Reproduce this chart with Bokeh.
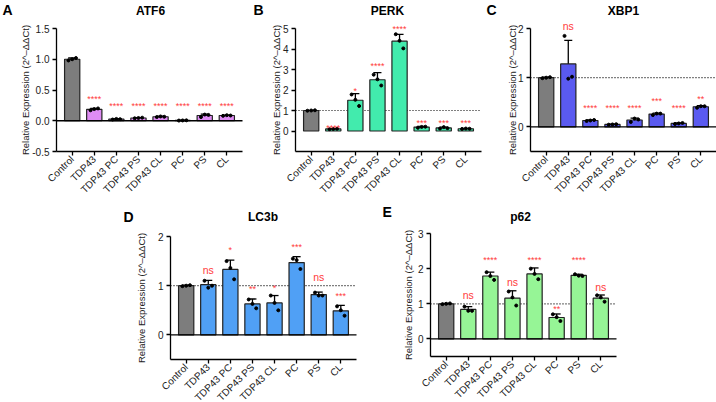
from math import pi

from bokeh.core.properties import value
from bokeh.embed import file_html
from bokeh.layouts import column, row
from bokeh.models import (ColumnDataSource, FixedTicker, Label, NumeralTickFormatter,
                          Range1d, TeeHead, Whisker)
from bokeh.plotting import figure
from bokeh.resources import INLINE

FONT = "Liberation Sans"
SIG_RED = "#ff3b3b"
CONTROL_GREY = "#7d7d7d"

groups = ["Control", "TDP43", "TDP43 PC", "TDP43 PS", "TDP43 CL", "PC", "PS", "CL"]

# ---- ATF6 ----
atf6_mean = [1.00, 0.185, 0.025, 0.045, 0.065, 0.005, 0.085, 0.085]
atf6_sd = [0.02, 0.015, 0.008, 0.006, 0.008, 0.003, 0.022, 0.007]
atf6_reps = [[0.98, 1.00, 1.02], [0.17, 0.19, 0.20], [0.02, 0.03, 0.025],
             [0.04, 0.045, 0.05], [0.06, 0.07, 0.065], [0.003, 0.005, 0.007],
             [0.06, 0.10, 0.095], [0.08, 0.09, 0.085]]
atf6_sig = ["", "****", "****", "****", "****", "****", "****", "****"]
atf6_sig_y = [0, 0.36, 0.235, 0.235, 0.235, 0.235, 0.235, 0.235]

# ---- PERK ----
perk_mean = [1.00, 0.10, 1.50, 2.50, 4.38, 0.19, 0.15, 0.11]
perk_sd = [0.01, 0.01, 0.32, 0.35, 0.33, 0.03, 0.04, 0.02]
perk_reps = [[0.99, 1.00, 1.01], [0.09, 0.10, 0.11], [1.78, 1.52, 1.22],
             [2.75, 2.52, 2.22], [4.72, 4.40, 4.03], [0.16, 0.20, 0.21],
             [0.12, 0.19, 0.14], [0.10, 0.12, 0.11]]
perk_sig = ["", "****", "*", "****", "****", "***", "***", "***"]
perk_sig_y = [0, 0.15, 1.94, 3.17, 4.96, 0.41, 0.41, 0.41]

# ---- XBP1 ----
xbp1_mean = [1.00, 1.28, 0.13, 0.05, 0.14, 0.26, 0.07, 0.41]
xbp1_sd = [0.01, 0.48, 0.01, 0.005, 0.04, 0.02, 0.01, 0.02]
xbp1_reps = [[0.99, 1.00, 1.01], [1.85, 0.98, 1.02], [0.12, 0.13, 0.14],
             [0.045, 0.05, 0.055], [0.10, 0.17, 0.15], [0.24, 0.27, 0.27],
             [0.06, 0.07, 0.08], [0.39, 0.42, 0.42]]
xbp1_sig = ["", "ns", "****", "****", "****", "***", "****", "**"]
xbp1_sig_y = [0, 2.05, 0.385, 0.385, 0.39, 0.52, 0.385, 0.57]

# ---- LC3b ----
lc3b_mean = [1.00, 1.02, 1.33, 0.63, 0.65, 1.47, 0.82, 0.49]
lc3b_sd = [0.01, 0.09, 0.19, 0.10, 0.15, 0.12, 0.05, 0.11]
lc3b_reps = [[0.99, 1.00, 1.01], [1.10, 0.96, 1.00], [1.50, 1.36, 1.13],
             [0.72, 0.63, 0.54], [0.80, 0.65, 0.50], [1.55, 1.52, 1.34],
             [0.86, 0.80, 0.80], [0.58, 0.50, 0.39]]
lc3b_sig = ["", "ns", "*", "**", "*", "***", "ns", "***"]
lc3b_sig_y = [0, 1.31, 1.72, 0.94, 0.96, 1.79, 1.18, 0.79]

# ---- p62 ----
p62_mean = [1.00, 0.84, 1.79, 1.16, 1.85, 0.61, 1.81, 1.16]
p62_sd = [0.01, 0.08, 0.11, 0.21, 0.17, 0.10, 0.03, 0.09]
p62_reps = [[0.99, 1.00, 1.01], [0.92, 0.80, 0.80], [1.90, 1.79, 1.68],
            [1.35, 1.18, 0.95], [2.00, 1.85, 1.70], [0.70, 0.62, 0.51],
            [1.84, 1.80, 1.79], [1.24, 1.18, 1.06]]
p62_sig = ["", "ns", "****", "ns", "****", "**", "****", "ns"]
p62_sig_y = [0, 1.24, 2.24, 1.62, 2.24, 0.86, 2.24, 1.48]

YLABEL = "Relative Expression (2^\u2013\u0394\u0394Ct)"
X_LO, X_HI = -0.71, 7.71


def panel(letter, title, mean, sd, reps, sig, sig_y, color, y_lo, y_hi, yticks, yfmt,
          zero_line, ref_line, W, H, box, title_xy, letter_xy, ylab_x):
    # box = (left, top, right, bottom) of the axes area, in pixels inside the figure
    bl, bt, br, bb = box
    xpp = (X_HI - X_LO) / (br - bl)
    ypp = (y_hi - y_lo) / (bb - bt)
    p = figure(width=W, height=H, output_backend="svg", toolbar_location=None,
               x_range=Range1d(X_LO - bl * xpp, X_HI + (W - br) * xpp),
               y_range=Range1d(y_lo - (H - bb) * ypp, y_hi + bt * ypp),
               min_border=0, min_border_left=0, min_border_right=0,
               min_border_top=0, min_border_bottom=0)
    p.xgrid.visible = False
    p.ygrid.visible = False
    p.outline_line_color = None
    p.background_fill_color = "white"
    p.border_fill_color = "white"

    if ref_line:
        p.segment(x0=[X_LO], x1=[X_HI], y0=[1], y1=[1], line_color="black",
                  line_width=1.2, line_dash="1 2", level="underlay")

    xs = list(range(len(groups)))
    fills = [CONTROL_GREY] + [color] * (len(groups) - 1)
    bars = ColumnDataSource(dict(x=xs, top=mean, fill=fills,
                                 upper=[m + s for m, s in zip(mean, sd)],
                                 lower=[m - s for m, s in zip(mean, sd)]))
    p.vbar(x="x", top="top", bottom=0, width=0.69, source=bars, fill_color="fill",
           line_color="#222222", line_width=1.2)

    offsets = [-0.17, 0.0, 0.17]
    px, py = [], []
    for i, vals in enumerate(reps):
        for k, v in enumerate(vals):
            px.append(i + offsets[k % 3])
            py.append(v)
    p.scatter(px, py, size=3, color="black")

    p.add_layout(Whisker(source=bars, base="x", upper="upper", lower="lower",
                         dimension="height", line_color="black", line_width=1.3,
                         upper_head=TeeHead(size=8, line_width=1.3, line_color="black"),
                         lower_head=TeeHead(size=8, line_width=1.3, line_color="black")))

    if zero_line:
        p.segment(x0=[X_LO], x1=[X_HI], y0=[0], y1=[0], line_color="black", line_width=1.3)

    sx = [i for i, s in enumerate(sig) if s]
    marks = ColumnDataSource(dict(
        x=sx, y=[sig_y[i] for i in sx], text=[sig[i] for i in sx],
        size=["10.5px" if sig[i] == "ns" else "9px" for i in sx]))
    p.text(x="x", y="y", text="text", source=marks, text_color=SIG_RED,
           text_align="center", text_baseline="middle", text_font=value(FONT),
           text_font_size="size")

    for ax in (p.xaxis[0], p.yaxis[0]):
        ax.axis_line_color = "black"
        ax.axis_line_width = 1.3
        ax.major_tick_line_color = "black"
        ax.major_tick_line_width = 1.3
        ax.major_tick_out = 4
        ax.major_tick_in = 0
        ax.minor_tick_line_color = None
        ax.major_label_text_font = FONT
        ax.major_label_text_color = "#222222"
        ax.major_label_text_font_size = "10px"
        ax.major_label_standoff = 3

    p.xaxis.ticker = FixedTicker(ticks=xs)
    p.xaxis.major_label_overrides = {i: g for i, g in enumerate(groups)}
    p.xaxis.major_label_orientation = pi / 4
    p.xaxis.major_label_standoff = 2
    p.xaxis.fixed_location = y_lo
    p.xaxis.bounds = (X_LO, X_HI)

    p.yaxis.ticker = FixedTicker(ticks=yticks)
    p.yaxis.formatter = NumeralTickFormatter(format=yfmt)
    p.yaxis.fixed_location = X_LO
    p.yaxis.bounds = (y_lo, y_hi)

    p.add_layout(Label(x=ylab_x, y=H - (bt + bb) / 2, x_units="screen", y_units="screen",
                       text=YLABEL, angle=pi / 2, text_align="center",
                       text_baseline="middle", text_font=FONT,
                       text_font_size="9.5px", text_color="#222222"))
    p.add_layout(Label(x=title_xy[0], y=H - title_xy[1], x_units="screen", y_units="screen",
                       text=title, text_align="center", text_baseline="middle",
                       text_font=FONT, text_font_style="bold", text_font_size="12px",
                       text_color="black"))
    p.add_layout(Label(x=letter_xy[0], y=H - letter_xy[1], x_units="screen", y_units="screen",
                       text=letter, text_align="left", text_baseline="middle",
                       text_font=FONT, text_font_style="bold", text_font_size="14px",
                       text_color="black"))
    return p


pa = panel("A", "ATF6", atf6_mean, atf6_sd, atf6_reps, atf6_sig, atf6_sig_y, "#df8cf4",
           -0.5, 1.5, [-0.5, 0, 0.5, 1.0, 1.5], "0.0", True, False,
           246, 201, (56, 28, 242, 151), (150, 10.3), (2, 9), 25)
pb = panel("B", "PERK", perk_mean, perk_sd, perk_reps, perk_sig, perk_sig_y, "#42ebad",
           -1, 5, [0, 1, 2, 3, 4, 5], "0", False, True,
           239, 201, (49, 28, 235, 151), (141, 10), (7, 9), 29.5)
pc = panel("C", "XBP1", xbp1_mean, xbp1_sd, xbp1_reps, xbp1_sig, xbp1_sig_y, "#5a5af0",
           -0.5, 2, [0, 1, 2], "0", True, True,
           231, 201, (45, 28, 231, 151), (138, 10), (1, 9), 26.5)
pd_ = panel("D", "LC3b", lc3b_mean, lc3b_sd, lc3b_reps, lc3b_sig, lc3b_sig_y, "#50a0f5",
            -0.5, 2, [0, 1, 2], "0", True, True,
            360, 201, (170, 35, 356, 158), (262.5, 15), (123, 15), 140.5)
pe = panel("E", "p62", p62_mean, p62_sd, p62_reps, p62_sig, p62_sig_y, "#96f596",
           -0.5, 3, [0, 1, 2, 3], "0", True, True,
           356, 201, (70, 32, 256, 155), (160, 15.5), (22, 10), 48)

layout = column(row(pa, pb, pc, spacing=0), row(pd_, pe, spacing=0), spacing=0)

with open("out.html", "w") as f:
    f.write(file_html(layout, INLINE))
